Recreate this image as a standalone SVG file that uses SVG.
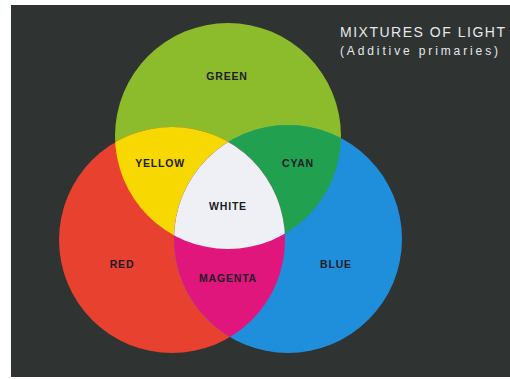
<svg xmlns="http://www.w3.org/2000/svg" width="510" height="379" viewBox="0 0 510 379">
  <style>
    .lbl { font-family: "Liberation Sans", Arial, sans-serif; font-weight: bold; font-size: 10.5px; fill: #1c1c28; text-anchor: middle; letter-spacing: 0.8px; }
    .ttl { font-family: "Liberation Sans", Arial, sans-serif; fill: #e6e8ee; }
  </style>
  <defs>
    <clipPath id="cR"><circle cx="172" cy="240" r="113"/></clipPath>
    <clipPath id="cG"><circle cx="228" cy="136" r="113"/></clipPath>
    <clipPath id="cB"><circle cx="288" cy="239" r="114"/></clipPath>
  </defs>
  <rect x="0" y="0" width="510" height="379" fill="#ffffff"/>
  <rect x="11" y="5" width="499" height="372" fill="#2f3331"/>

  <g id="title">
    <text class="ttl" x="340" y="37" font-size="14" textLength="165" lengthAdjust="spacing">MIXTURES OF LIGHT</text>
    <text class="ttl" x="340" y="55" font-size="12" textLength="158" lengthAdjust="spacing">(Additive primaries)</text>
  </g>

  <g id="green">
    <circle cx="228" cy="136" r="113" fill="#8cbb2c"/>
    <text class="lbl" x="227" y="80">GREEN</text>
  </g>
  <g id="red">
    <circle cx="172" cy="240" r="113" fill="#e8412f"/>
    <text class="lbl" x="122" y="268">RED</text>
  </g>
  <g id="blue">
    <circle cx="288" cy="239" r="114" fill="#1f8fdc"/>
    <text class="lbl" x="336" y="268">BLUE</text>
  </g>
  <g id="yellow">
    <g clip-path="url(#cR)"><circle cx="228" cy="136" r="113" fill="#f7d800"/></g>
    <text class="lbl" x="160" y="167">YELLOW</text>
  </g>
  <g id="cyan">
    <g clip-path="url(#cB)"><circle cx="228" cy="136" r="113" fill="#21a050"/></g>
    <text class="lbl" x="298" y="167">CYAN</text>
  </g>
  <g id="magenta">
    <g clip-path="url(#cR)"><circle cx="288" cy="239" r="114" fill="#e0167c"/></g>
    <text class="lbl" x="228" y="282">MAGENTA</text>
  </g>
  <g id="white">
    <g clip-path="url(#cR)"><g clip-path="url(#cG)"><circle cx="288" cy="239" r="114" fill="#eef0f6"/></g></g>
    <text class="lbl" x="228" y="210">WHITE</text>
  </g>
  <g id="connectors"/>
</svg>
